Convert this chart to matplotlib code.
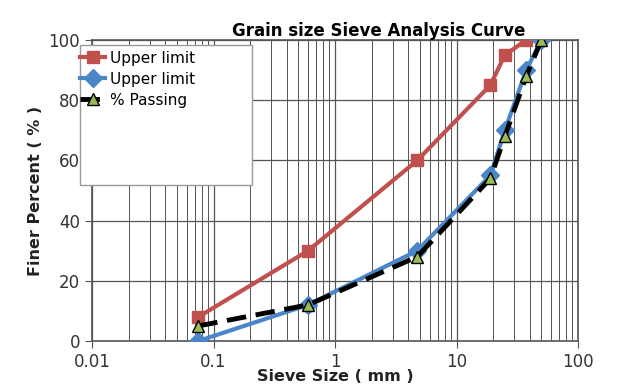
import matplotlib.pyplot as plt
from matplotlib.patches import Rectangle
from matplotlib.ticker import LogLocator, NullFormatter

sieve_upper = [0.075, 0.6, 4.75, 19, 25, 37.5]
upper_red = [8, 30, 60, 85, 95, 100]

sieve = [0.075, 0.6, 4.75, 19, 25, 37.5, 50]
upper_blue = [0, 12, 30, 55, 70, 90, 100]
passing = [5, 12, 28, 54, 68, 88, 100]

fig = plt.figure(figsize=(6.17, 3.91), dpi=100)
ax = fig.add_axes([92 / 617, 50 / 391, 486 / 617, 301 / 391])

ax.plot(sieve_upper, upper_red, color='#c0504d', lw=3, marker='s', ms=9,
        label='Upper limit', zorder=3)
ax.plot(sieve, upper_blue, color='#4a86c8', lw=3, marker='D', ms=9,
        label='Upper limit', zorder=4)
ax.plot(sieve, passing, color='black', lw=3.5, ls=(0, (4, 2)), marker='^', ms=8,
        mfc='#9bbb59', mec='black', label='% Passing', zorder=5)

ax.set_xscale('log')
ax.set_xlim(0.01, 100)
ax.set_ylim(0, 100)
ax.set_yticks([0, 20, 40, 60, 80, 100])
ax.set_xticks([0.01, 0.1, 1, 10, 100])
ax.set_xticklabels(['0.01', '0.1', '1', '10', '100'])
ax.xaxis.set_minor_locator(LogLocator(base=10, subs=range(2, 10)))
ax.xaxis.set_minor_formatter(NullFormatter())
ax.grid(True, which='major', color='#555555', lw=0.9)
ax.grid(True, which='minor', axis='x', color='#555555', lw=0.7)
ax.tick_params(labelsize=12, length=5, color='#555555', labelcolor='#333333')
ax.tick_params(which='minor', length=0)
for s in ax.spines.values():
    s.set_color('#555555')
    s.set_linewidth(1.2)

ax.set_title('Grain size Sieve Analysis Curve', fontsize=12, fontweight='bold',
             x=0.59, pad=2)
ax.set_xlabel('Sieve Size ( mm )', fontsize=11.5, fontweight='bold', labelpad=-1,
              color='#222222')
ax.set_ylabel('Finer Percent ( % )', fontsize=11.5, fontweight='bold',
              color='#222222')

# large legend box as in the original
box = Rectangle((-0.025, 0.518), 0.354, 0.465, transform=ax.transAxes,
                facecolor='white', edgecolor='#999999', lw=1, zorder=10,
                clip_on=False)
ax.add_patch(box)
leg = ax.legend(loc='upper left', bbox_to_anchor=(-0.03, 0.975), fontsize=11,
                frameon=False, handlelength=1.6, handletextpad=0.3,
                borderpad=0.2, labelspacing=0.4, borderaxespad=0)
leg.set_zorder(11)

fig.savefig('out.png', dpi=100)
